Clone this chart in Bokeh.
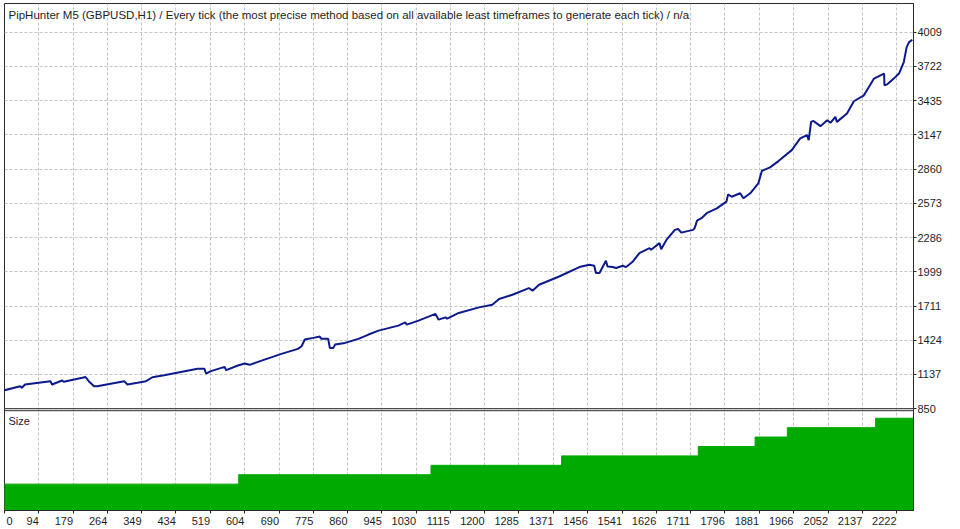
from bokeh.plotting import figure
from bokeh.models import Range1d, FixedTicker, Span, Label
from bokeh.embed import file_html
from bokeh.resources import INLINE

# ---------------- data ----------------
title_text = ("PipHunter M5 (GBPUSD,H1) / Every tick (the most precise method based on all "
              "available least timeframes to generate each tick) / n/a")
panel2_title = "Size"

trade_no = [0, 48, 52, 60, 123, 127, 152, 156, 202, 210,
            218, 231, 239, 306, 314, 339, 360, 376, 405, 488,
            505, 509, 521, 555, 559, 588, 605, 617, 654, 696,
            737, 746, 754, 775, 791, 795, 812, 816, 825, 829,
            854, 887, 912, 937, 986, 1003, 1007, 1036, 1078, 1086,
            1103, 1107, 1136, 1186, 1219, 1236, 1269, 1310, 1319, 1335,
            1385, 1435, 1460, 1472, 1476, 1485, 1501, 1505, 1518, 1526,
            1543, 1551, 1568, 1584, 1609, 1613, 1634, 1638, 1651, 1672,
            1680, 1688, 1717, 1721, 1727, 1738, 1751, 1776, 1800, 1804,
            1813, 1834, 1842, 1859, 1867, 1879, 1888, 1908, 1929, 1962,
            1983, 2000, 2004, 2010, 2016, 2033, 2050, 2058, 2070, 2074,
            2099, 2116, 2141, 2166, 2187, 2191, 2192, 2199, 2215, 2228,
            2240, 2247, 2253, 2261]
balance = [997, 1039, 1026, 1053, 1081, 1053, 1087, 1076, 1109, 1116,
           1081, 1039, 1039, 1081, 1053, 1067, 1081, 1114, 1131, 1185,
           1185, 1145, 1165, 1201, 1173, 1212, 1229, 1218, 1262, 1310,
           1352, 1374, 1430, 1444, 1455, 1436, 1436, 1360, 1360, 1388,
           1402, 1436, 1472, 1505, 1547, 1574, 1555, 1589, 1645, 1597,
           1616, 1605, 1653, 1700, 1722, 1770, 1806, 1862, 1840, 1890,
           1959, 2038, 2057, 2049, 1988, 1988, 2091, 2043, 2038, 2030,
           2049, 2038, 2085, 2155, 2197, 2183, 2239, 2188, 2266, 2350,
           2358, 2327, 2350, 2364, 2428, 2448, 2490, 2531, 2587, 2648,
           2628, 2657, 2615, 2657, 2690, 2740, 2846, 2874, 2927, 3019,
           3117, 3145, 3103, 3256, 3264, 3220, 3270, 3248, 3298, 3256,
           3326, 3429, 3479, 3619, 3655, 3661, 3563, 3571, 3619, 3661,
           3758, 3883, 3925, 3945]

lot_from = [0, 590, 1067, 1391, 1730, 1871, 1951, 2170]
lot_to = [590, 1067, 1391, 1730, 1871, 1951, 2170, 2264]
lot_size = [0.03, 0.04, 0.05, 0.06, 0.07, 0.08, 0.09, 0.10]

xtick_labels = [0, 94, 179, 264, 349, 434, 519, 604, 690, 775, 860, 945, 1030, 1115,
                1200, 1285, 1371, 1456, 1541, 1626, 1711, 1796, 1881, 1966, 2052, 2137, 2222]
ytick_labels = [850, 1137, 1424, 1711, 1999, 2286, 2573, 2860, 3147, 3435, 3722, 4009]

# ---------------- style / layout ----------------
FONT = "Liberation Sans"
TXT = "#1e1e1e"
GRID = "#c4c4c4"
FRAME = "#2a2a2a"
LINE = "#0c1a8c"
GREEN = "#00aa00"
FIG_SPACE = "\u2007"   # digit-wide blank, used to right-align the x labels on their ticks

X_START, X_END = 9, 2264
EQ_BOTTOM, EQ_TOP = ytick_labels[0], 4249
LOT_BOTTOM, LOT_TOP = 0.002, 0.108

LB, TB, RB, BB = 4, 3, 34, 18
FRAME_W = 909
FRAME_H = 508
EQ_PX, GAP_PX = 406, 2
LOT_PX = FRAME_H - EQ_PX - GAP_PX

eq_per_px = (EQ_TOP - EQ_BOTTOM) / EQ_PX
Y_START = EQ_BOTTOM - (GAP_PX + LOT_PX) * eq_per_px
lot_per_px = (LOT_TOP - LOT_BOTTOM) / LOT_PX
LOT_END = LOT_BOTTOM + FRAME_H * lot_per_px

p = figure(width=LB + FRAME_W + RB, height=TB + FRAME_H + BB,
           x_range=Range1d(X_START, X_END), y_range=Range1d(Y_START, EQ_TOP),
           y_axis_location="right", toolbar_location=None, output_backend="svg",
           min_border_left=LB, min_border_right=RB, min_border_top=TB, min_border_bottom=BB,
           background_fill_color="white", border_fill_color="white")
p.extra_y_ranges = {"lot": Range1d(LOT_BOTTOM, LOT_END)}
p.outline_line_color = FRAME
p.outline_line_width = 1

# x ticks: first label ("0") sits at the left edge of the chart, the others end at their grid line
x_ticks = [X_START] + xtick_labels[1:]
x_overrides = {X_START: FIG_SPACE * len(str(xtick_labels[0])) + str(xtick_labels[0])}
for v in xtick_labels[1:]:
    x_overrides[v] = str(v) + FIG_SPACE * len(str(v))

p.xaxis.ticker = FixedTicker(ticks=x_ticks)
p.xaxis.major_label_overrides = x_overrides
p.yaxis.ticker = FixedTicker(ticks=ytick_labels)
for g in (p.xgrid, p.ygrid):
    g.grid_line_color = GRID
    g.grid_line_dash = "3 2"
    g.grid_line_width = 1

for ax in (p.xaxis, p.yaxis):
    ax.axis_line_color = FRAME
    ax.major_tick_line_color = FRAME
    ax.major_tick_out = 3
    ax.major_tick_in = 0
    ax.minor_tick_line_color = None
    ax.major_label_standoff = 1
    ax.major_label_text_font = FONT
    ax.major_label_text_font_size = "11px"
    ax.major_label_text_color = TXT

# lot size panel (outlined in the fill colour so neighbouring steps join without seams)
p.quad(left=lot_from, right=lot_to, bottom=0, top=lot_size, y_range_name="lot",
       fill_color=GREEN, line_color=GREEN, line_width=1)

# balance line
p.line(trade_no, balance, line_color=LINE, line_width=2)

# panel separators
p.add_layout(Span(location=EQ_BOTTOM, dimension="width", line_color=FRAME, line_width=1))
p.add_layout(Span(location=LOT_TOP, dimension="width", y_range_name="lot",
                  line_color=FRAME, line_width=1))

# texts
p.add_layout(Label(x=X_START, y=EQ_TOP, x_offset=4, y_offset=-5, text=title_text,
                   text_font=FONT, text_font_size="11.5px", text_color=TXT,
                   text_align="left", text_baseline="top"))
p.add_layout(Label(x=X_START, y=LOT_TOP, y_range_name="lot", x_offset=4, y_offset=-4,
                   text=panel2_title, text_font=FONT, text_font_size="11px", text_color=TXT,
                   text_align="left", text_baseline="top"))

open("out.html", "w").write(file_html(p, INLINE))
